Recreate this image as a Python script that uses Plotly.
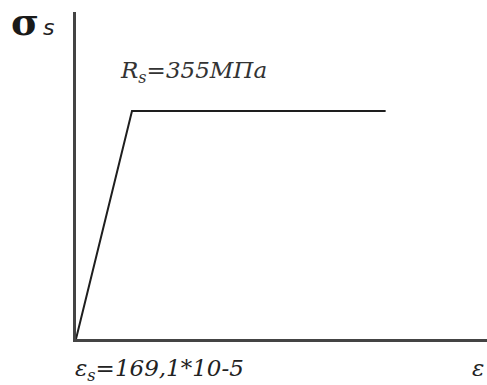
import plotly.graph_objects as go

# Idealised stress-strain diagram for reinforcing steel
strain = [0, 169.1, 935]        # strain, x10^-5
stress = [0, 355, 355]          # stress, MPa
yield_strength = 355
yield_strain_label = "169,1*10-5"

W, H = 487, 385
L, B, T = 76, 46, 12
x_max = (W - L) / 56 * 169.1
y_max = (H - B - T) / 228 * 355

fig = go.Figure(go.Scatter(
    x=strain, y=stress, mode="lines",
    line=dict(color="#1e1e1e", width=2),
    hoverinfo="skip",
))

serif = "DejaVu Serif, serif"


def px_to_paper(px, py):
    """Pixel position (from top-left of the page) to paper coordinates."""
    return (px - L) / (W - L), (H - B - py) / (H - B - T)


def label(text, px, py, size, family=serif, color="#222"):
    x, y = px_to_paper(px, py)
    return dict(text=text, x=x, y=y, xref="paper", yref="paper", showarrow=False,
                xanchor="left", yanchor="top", font=dict(family=family, size=size, color=color))


fig.update_layout(
    width=W, height=H,
    margin=dict(l=L, r=0, t=T, b=B),
    paper_bgcolor="white", plot_bgcolor="white",
    showlegend=False,
    xaxis=dict(range=[0, x_max], showline=True, linecolor="#444", linewidth=3,
               showgrid=False, zeroline=False, showticklabels=False, ticks=""),
    yaxis=dict(range=[0, y_max], showline=True, linecolor="#444", linewidth=3,
               showgrid=False, zeroline=False, showticklabels=False, ticks=""),
    annotations=[
        label("<b>σ</b>", 9, -3, 38, family="DejaVu Serif", color="#1a1a1a"),
        label("<i>s</i>", 41, 13, 22, family="DejaVu Sans", color="#222"),
        label(f"<i>R<sub>s</sub>=</i><i>{yield_strength}МПа</i>", 118, 55, 23, color="#333"),
        label(f"<i>ε<sub>s</sub>=</i><i>{yield_strain_label}</i>", 73, 353, 23),
        label("<i>ε</i>", 470, 353, 23),
    ],
)

fig.write_html("out.html")
